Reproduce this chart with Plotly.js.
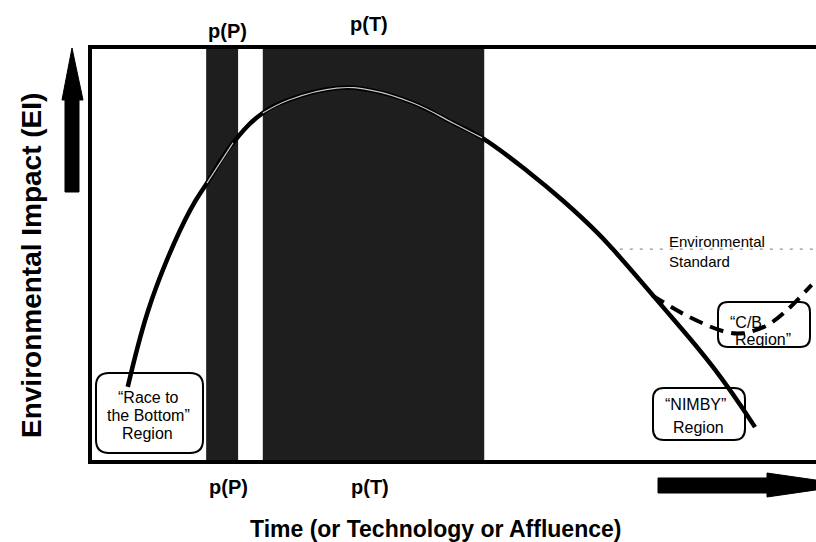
<!DOCTYPE html>
<html>
<head>
<meta charset="utf-8">
<script src="https://cdn.plot.ly/plotly-3.0.1.min.js"></script>
<style>html,body{margin:0;padding:0;background:#fff;}#chart{width:816px;height:542px;}</style>
</head>
<body>
<div id="chart"></div>
<script>
// ---- data (arbitrary units 0-100) ----
const curveTime   = [5.2, 7.9, 10.6, 13.8, 16.1, 19.7, 23.8, 27.5, 34.0, 38.6, 44.5, 50.0, 54.0, 60.6, 65.2, 69.8, 72.0, 78.1, 85.8, 91.6];
const curveImpact = [18.1, 35.9, 48.7, 60.7, 67.2, 76.9, 84.1, 87.3, 90.1, 89.6, 86.5, 81.7, 78.1, 69.6, 62.9, 55.4, 51.3, 39.0, 22.9, 8.4];
const cbTime      = [77.4, 82.6, 87.7, 90.2, 93.3, 96.0, 99.4];
const cbImpact    = [40.2, 34.9, 31.3, 31.1, 33.0, 36.6, 42.7];
const bandNames   = ["p(P)", "p(T)"];
const bandStart   = [16.0, 23.8];
const bandEnd     = [20.4, 54.3];
const standardLevel = 51.3;
const standardFrom  = 71.6;
const xTitle = "Time (or Technology or Affluence)";
const yTitle = "Environmental Impact (EI)";

// ---- geometry helpers (pixel -> paper) ----
const L = 90, R = 816, T = 47, B = 462;
const PX = x => (x - L) / (R - L);
const PY = y => (B - y) / (B - T);
function pathFromPx(pts, close) {
  return pts.map((p, i) => (i ? 'L' : 'M') + PX(p[0]).toFixed(5) + ',' + PY(p[1]).toFixed(5)).join(' ') + (close ? ' Z' : '');
}
function roundRect(x0, y0, x1, y1, r) {
  const f = (x, y) => PX(x).toFixed(5) + ',' + PY(y).toFixed(5);
  return 'M' + f(x0 + r, y0) + ' L' + f(x1 - r, y0) + ' Q' + f(x1, y0) + ' ' + f(x1, y0 + r) +
         ' L' + f(x1, y1 - r) + ' Q' + f(x1, y1) + ' ' + f(x1 - r, y1) +
         ' L' + f(x0 + r, y1) + ' Q' + f(x0, y1) + ' ' + f(x0, y1 - r) +
         ' L' + f(x0, y0 + r) + ' Q' + f(x0, y0) + ' ' + f(x0 + r, y0) + ' Z';
}

const FONT = 'Liberation Sans, Arial, Helvetica, sans-serif';

// light highlight of the curve inside the shaded bands
const hiX = [], hiY = [];
bandStart.forEach((s, b) => {
  curveTime.forEach((t, i) => { if (t >= s && t <= bandEnd[b]) { hiX.push(t); hiY.push(curveImpact[i]); } });
  hiX.push(null); hiY.push(null);
});

const traces = [
  {x: curveTime, y: curveImpact, mode: 'lines', line: {color: '#000', width: 4.5, shape: 'spline', smoothing: 1.2}},
  {x: hiX, y: hiY, mode: 'lines', connectgaps: false, line: {color: '#c8c8c8', width: 1.2, shape: 'spline', smoothing: 1.2}},
  {x: cbTime, y: cbImpact, mode: 'lines', line: {color: '#000', width: 4, dash: '14px,8px', shape: 'spline', smoothing: 1}}
];

const shapes = [];
bandStart.forEach((s, i) => shapes.push({type: 'rect', xref: 'x', yref: 'paper', x0: s, x1: bandEnd[i], y0: 0, y1: 1,
  fillcolor: '#1e1e1e', line: {width: 0}, layer: 'below'}));
shapes.push({type: 'line', xref: 'x', yref: 'y', x0: standardFrom, x1: 100, y0: standardLevel, y1: standardLevel,
  line: {color: '#777', width: 1, dash: '3px,7px'}, layer: 'below'});
// frame
shapes.push({type: 'line', xref: 'paper', yref: 'paper', x0: PX(90), x1: PX(90), y0: PY(45), y1: PY(464), line: {color: '#000', width: 4}});
shapes.push({type: 'line', xref: 'paper', yref: 'paper', x0: PX(88), x1: 1, y0: PY(47), y1: PY(47), line: {color: '#000', width: 4}});
shapes.push({type: 'line', xref: 'paper', yref: 'paper', x0: PX(88), x1: 1, y0: PY(462), y1: PY(462), line: {color: '#000', width: 4}});
// rounded label boxes
[[96, 373, 203, 453, 13], [718, 302, 810, 347, 10], [653, 388, 745, 440, 11]].forEach(b =>
  shapes.push({type: 'path', xref: 'paper', yref: 'paper', path: roundRect(b[0], b[1], b[2], b[3], b[4]), line: {color: '#000', width: 2}}));
// arrows
shapes.push({type: 'path', xref: 'paper', yref: 'paper', fillcolor: '#000', line: {color: '#000', width: 1},
  path: pathFromPx([[72, 48], [83, 100], [79, 100], [79, 192], [65, 192], [65, 100], [62, 100]], true)});
shapes.push({type: 'path', xref: 'paper', yref: 'paper', fillcolor: '#000', line: {color: '#000', width: 1},
  path: pathFromPx([[658, 478], [767, 478], [767, 473], [850, 485], [767, 497], [767, 493], [658, 493]], true)});

function ann(text, x, y, size, bold, opts) {
  return Object.assign({text: bold ? '<b>' + text + '</b>' : text, xref: 'paper', yref: 'paper', x: PX(x), y: PY(y),
    xanchor: 'center', yanchor: 'middle', showarrow: false, font: {family: FONT, size: size, color: '#000'}}, opts || {});
}
const annotations = [
  ann(bandNames[0], 227, 31, 20, true), ann(bandNames[1], 369, 24, 20, true),
  ann(bandNames[0], 228, 487, 20, true), ann(bandNames[1], 370, 487, 20, true),
  ann(xTitle, 435, 529, 23, true),
  ann(yTitle, 31, 266, 28, true, {textangle: -90}),
  ann('Environmental', 667, 242, 15, false, {xanchor: 'left'}),
  ann('Standard', 667, 261, 15, false, {xanchor: 'left'}),
  ann('\u201CC/B', 746, 322, 16, false),
  ann('Region\u201D', 763, 339, 16, false),
  ann('\u201CNIMBY\u201D', 695, 404, 16, false),
  ann('Region', 698, 427, 16, false),
  ann('\u201CRace to', 148, 397, 16, false),
  ann('the Bottom\u201D', 148, 415, 16, false),
  ann('Region', 147, 433, 16, false)
];

const layout = {
  width: 816, height: 542,
  margin: {l: L, r: 816 - R, t: T, b: 542 - B},
  paper_bgcolor: '#fff', plot_bgcolor: '#fff',
  showlegend: false, hovermode: false,
  xaxis: {range: [0, 100], showgrid: false, zeroline: false, showticklabels: false, showline: false, ticks: ''},
  yaxis: {range: [0, 100], showgrid: false, zeroline: false, showticklabels: false, showline: false, ticks: ''},
  shapes: shapes, annotations: annotations
};
Plotly.newPlot('chart', traces, layout, {staticPlot: true, displayModeBar: false});
</script>
</body>
</html>
